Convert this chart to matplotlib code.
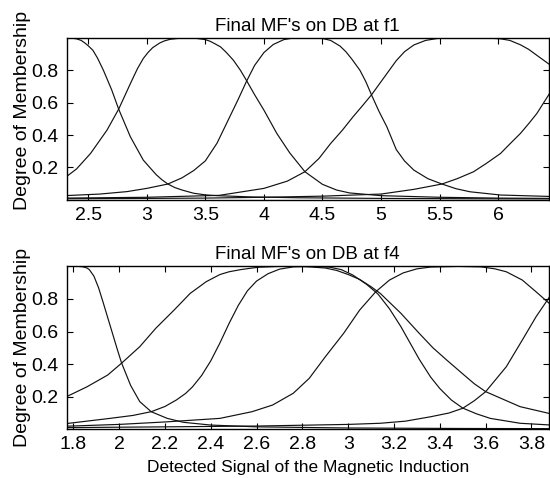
import matplotlib
matplotlib.use("Agg")
import matplotlib.pyplot as plt

plt.rcParams['font.family'] = ['Liberation Sans', 'DejaVu Sans']

# ---- f1 panel: membership curves ----
f1_a_x = [2.30, 2.35, 2.40, 2.44, 2.47, 2.50, 2.54, 2.58, 2.63, 2.70, 2.76, 2.86, 2.97, 3.08, 3.13, 3.18, 3.24, 3.30, 3.40, 3.50, 3.60, 3.90, 4.30, 5.00, 5.80, 6.45]
f1_a_y = [1.0, 1.0, 0.995, 0.985, 0.97, 0.952, 0.924, 0.875, 0.80, 0.68, 0.56, 0.389, 0.245, 0.155, 0.123, 0.097, 0.075, 0.06, 0.04, 0.03, 0.025, 0.017, 0.012, 0.008, 0.006, 0.005]

f1_b_x = [2.30, 2.40, 2.52, 2.66, 2.76, 2.86, 2.92, 2.97, 3.01, 3.05, 3.11, 3.15, 3.20, 3.30, 3.40, 3.50, 3.54, 3.58, 3.63, 3.68, 3.74, 3.80, 3.85, 3.92, 4.00, 4.11, 4.22, 4.35, 4.50, 4.62, 4.73, 5.00, 5.50, 6.00, 6.45]
f1_b_y = [0.135, 0.19, 0.286, 0.43, 0.56, 0.718, 0.81, 0.873, 0.91, 0.94, 0.969, 0.982, 0.992, 1.0, 1.0, 0.99, 0.98, 0.965, 0.945, 0.91, 0.862, 0.80, 0.739, 0.65, 0.554, 0.41, 0.29, 0.173, 0.095, 0.06, 0.042, 0.025, 0.015, 0.01, 0.008]

f1_c_x = [2.30, 2.60, 2.83, 3.00, 3.18, 3.30, 3.40, 3.50, 3.60, 3.70, 3.78, 3.85, 3.92, 4.00, 4.08, 4.17, 4.25, 4.37, 4.50, 4.57, 4.65, 4.70, 4.75, 4.82, 4.87, 4.92, 4.98, 5.05, 5.13, 5.20, 5.28, 5.40, 5.52, 5.64, 5.76, 6.02, 6.45]
f1_c_y = [0.025, 0.035, 0.05, 0.07, 0.097, 0.135, 0.18, 0.24, 0.35, 0.50, 0.62, 0.73, 0.83, 0.91, 0.96, 0.99, 1.0, 1.0, 0.997, 0.985, 0.95, 0.915, 0.87, 0.80, 0.73, 0.646, 0.55, 0.45, 0.31, 0.24, 0.183, 0.13, 0.097, 0.068, 0.049, 0.029, 0.02]

f1_d_x = [2.30, 3.00, 3.62, 4.00, 4.20, 4.35, 4.47, 4.57, 4.67, 4.76, 4.84, 4.92, 5.00, 5.08, 5.13, 5.20, 5.28, 5.38, 5.48, 5.60, 5.75, 5.90, 6.02, 6.10, 6.19, 6.26, 6.33, 6.45]
f1_d_y = [0.01, 0.015, 0.027, 0.07, 0.115, 0.173, 0.255, 0.348, 0.43, 0.512, 0.58, 0.65, 0.73, 0.81, 0.86, 0.915, 0.957, 0.985, 0.997, 1.0, 1.0, 1.0, 0.995, 0.985, 0.958, 0.93, 0.893, 0.83]

f1_e_x = [2.30, 3.00, 3.50, 4.00, 4.50, 5.00, 5.28, 5.52, 5.65, 5.79, 5.90, 6.02, 6.10, 6.19, 6.26, 6.33, 6.45]
f1_e_y = [0.006, 0.008, 0.01, 0.015, 0.022, 0.035, 0.064, 0.097, 0.13, 0.173, 0.225, 0.286, 0.345, 0.41, 0.47, 0.533, 0.67]

# ---- f4 panel ----
f4_a_x = [1.75, 1.82, 1.84, 1.86, 1.87, 1.89, 1.91, 1.93, 1.96, 1.99, 2.01, 2.05, 2.09, 2.14, 2.21, 2.28, 2.40, 2.60, 3.00, 3.50, 3.90]
f4_a_y = [1.0, 1.0, 0.998, 0.99, 0.98, 0.94, 0.87, 0.78, 0.64, 0.50, 0.41, 0.27, 0.17, 0.108, 0.067, 0.043, 0.026, 0.015, 0.008, 0.005, 0.004]

f4_b_x = [1.75, 1.77, 1.86, 1.95, 2.01, 2.09, 2.16, 2.24, 2.31, 2.38, 2.44, 2.48, 2.53, 2.57, 2.61, 2.70, 2.80, 2.90, 2.95, 3.00, 3.05, 3.10, 3.14, 3.23, 3.31, 3.37, 3.43, 3.50, 3.55, 3.60, 3.75, 3.90]
f4_b_y = [0.19, 0.2, 0.261, 0.333, 0.405, 0.507, 0.62, 0.732, 0.834, 0.906, 0.95, 0.967, 0.98, 0.988, 0.995, 1.0, 1.0, 0.99, 0.975, 0.95, 0.92, 0.875, 0.834, 0.712, 0.589, 0.50, 0.425, 0.34, 0.28, 0.231, 0.139, 0.09]

f4_c_x = [1.75, 1.77, 1.96, 2.06, 2.14, 2.20, 2.25, 2.29, 2.32, 2.36, 2.40, 2.44, 2.48, 2.52, 2.56, 2.60, 2.65, 2.70, 2.76, 2.85, 2.92, 2.97, 3.02, 3.08, 3.13, 3.18, 3.23, 3.27, 3.31, 3.36, 3.40, 3.45, 3.50, 3.56, 3.62, 3.75, 3.90]
f4_c_y = [0.033, 0.035, 0.067, 0.085, 0.108, 0.14, 0.18, 0.22, 0.26, 0.33, 0.42, 0.53, 0.65, 0.76, 0.85, 0.91, 0.955, 0.983, 0.997, 1.0, 0.995, 0.98, 0.947, 0.89, 0.83, 0.74, 0.63, 0.53, 0.43, 0.32, 0.25, 0.18, 0.13, 0.095, 0.067, 0.037, 0.025]

f4_d_x = [1.75, 2.00, 2.20, 2.44, 2.58, 2.67, 2.76, 2.83, 2.90, 2.98, 3.05, 3.12, 3.18, 3.24, 3.30, 3.36, 3.48, 3.58, 3.64, 3.69, 3.76, 3.82, 3.88, 3.90]
f4_d_y = [0.018, 0.03, 0.045, 0.067, 0.108, 0.149, 0.221, 0.313, 0.445, 0.589, 0.732, 0.844, 0.916, 0.96, 0.985, 0.996, 1.0, 0.997, 0.985, 0.967, 0.916, 0.844, 0.77, 0.74]

f4_e_x = [1.75, 2.20, 2.60, 3.00, 3.14, 3.25, 3.36, 3.44, 3.50, 3.55, 3.60, 3.69, 3.76, 3.82, 3.88, 3.90]
f4_e_y = [0.01, 0.015, 0.02, 0.03, 0.037, 0.05, 0.077, 0.10, 0.129, 0.175, 0.231, 0.384, 0.548, 0.691, 0.815, 0.85]

f1_ticks = [2.5, 3, 3.5, 4, 4.5, 5, 5.5, 6]
f1_labels = ['2.5', '3', '3.5', '4', '4.5', '5', '5.5', '6']
f4_ticks = [1.8, 2.0, 2.2, 2.4, 2.6, 2.8, 3.0, 3.2, 3.4, 3.6, 3.8]
f4_labels = ['1.8', '2', '2.2', '2.4', '2.6', '2.8', '3', '3.2', '3.4', '3.6', '3.8']
y_ticks = [0.2, 0.4, 0.6, 0.8]
y_labels = ['0.2', '0.4', '0.6', '0.8']

fig = plt.figure(figsize=(5.5, 4.78), dpi=100)
ax1 = fig.add_axes([0.1212, 0.5822, 0.8768, 0.3383])
ax2 = fig.add_axes([0.1212, 0.1019, 0.8768, 0.3408])

panels = [
    (ax1, [(f1_a_x, f1_a_y), (f1_b_x, f1_b_y), (f1_c_x, f1_c_y), (f1_d_x, f1_d_y), (f1_e_x, f1_e_y)],
     (2.316, 6.433), f1_ticks, f1_labels, "Final MF's on DB at f1"),
    (ax2, [(f4_a_x, f4_a_y), (f4_b_x, f4_b_y), (f4_c_x, f4_c_y), (f4_d_x, f4_d_y), (f4_e_x, f4_e_y)],
     (1.771, 3.876), f4_ticks, f4_labels, "Final MF's on DB at f4"),
]

for ax, curves, xlim, ticks, labels, title in panels:
    for cx, cy in curves:
        ax.plot(cx, cy, color='#111111', linewidth=0.85)
    ax.set_xlim(*xlim)
    ax.set_ylim(0, 1)
    ax.set_xticks(ticks)
    ax.set_xticklabels(labels)
    ax.set_yticks(y_ticks)
    ax.set_yticklabels(y_labels)
    ax.tick_params(direction='in', top=True, right=True, length=4, width=0.8,
                   labelsize=14, colors='black')
    ax.tick_params(axis='x', pad=5)
    ax.tick_params(axis='y', pad=6)
    for sp in ax.spines.values():
        sp.set_linewidth(1.0)
        sp.set_color('black')
    ax.set_title(title, fontsize=13.5, pad=5)
    ax.set_ylabel('Degree of Membership', fontsize=14)

ax1.yaxis.set_label_coords(-0.073, 0.55)
ax2.yaxis.set_label_coords(-0.073, 0.5)
ax2.set_xlabel('Detected Signal of the Magnetic Induction', fontsize=12.5, labelpad=5)

fig.savefig('out.png', dpi=100)
